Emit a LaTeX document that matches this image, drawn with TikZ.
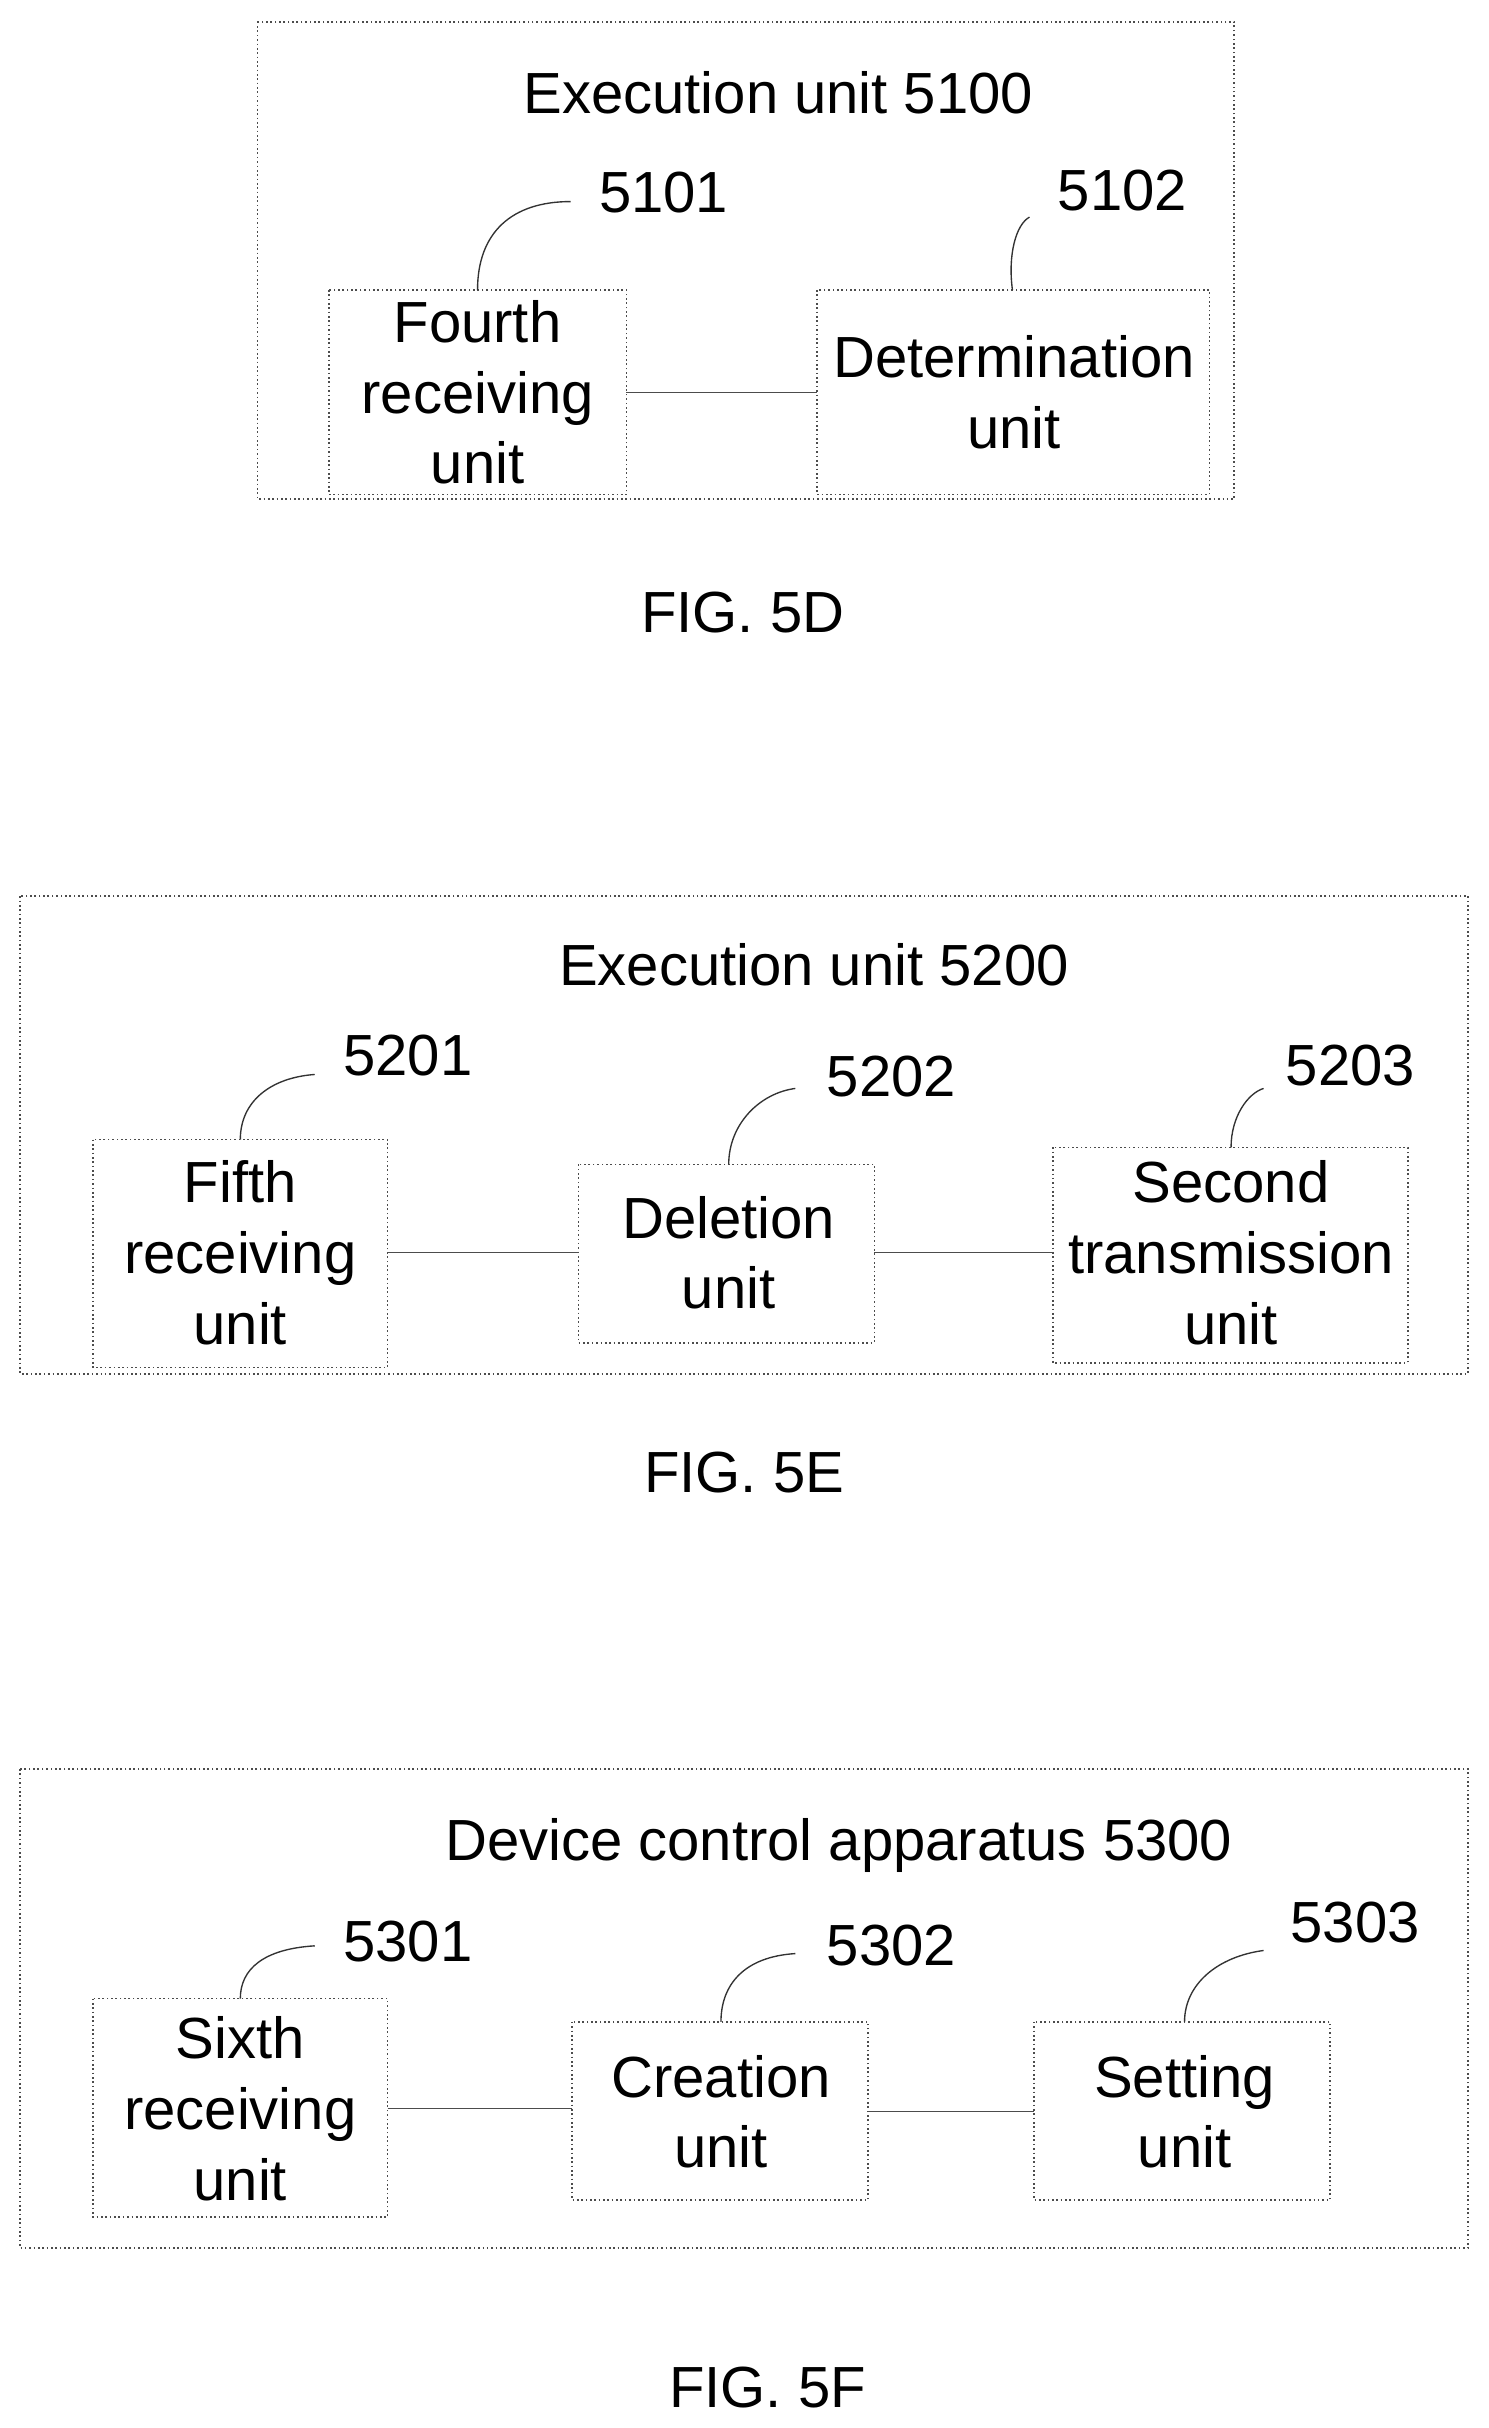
\documentclass[tikz,border=0pt]{standalone}
\usepackage{fontspec}
\setmainfont{Liberation Sans}
\begin{document}
\begin{tikzpicture}[x=0.02cm,y=-0.02cm,
 txt/.style={font=\fontsize{21.3}{26}\selectfont,align=center,inner sep=0},
 outer/.style={draw=black!70,line width=0.6pt,densely dotted},
 box/.style={draw=black!70,line width=0.6pt,densely dotted},
 con/.style={draw=black!70,line width=0.5pt},
 lead/.style={draw=black!80,line width=0.5pt}]
\useasboundingbox (0,0) rectangle (960,1566);
% 5D
\draw[outer] (166,14) rectangle (796,322);
\node[txt] (t1) at (502,60) {Execution unit 5100};
\draw[box] (212,187) rectangle (404,319); \coordinate (a1) at (308,187); \node[txt] (b1) at (308,253) {Fourth\\receiving\\unit};
\draw[box] (527,187) rectangle (780,319); \coordinate (a2) at (653,187); \node[txt] (b2) at (654,253) {Determination\\unit};
\draw[con] (404,253) -- (527,253);
\node[txt] (l1) at (428,124) {5101}; \node[txt] (l2) at (724,123) {5102};
\draw[lead] (a1) .. controls (308,150) and (330,130) .. (368,130);
\draw[lead] (a2) .. controls (650,165) and (655,145) .. (664,140);
\node[txt] (f1) at (479,395) {FIG. 5D};
% 5E
\draw[outer] (13,578) rectangle (947,886);
\node[txt] (t2) at (525,622) {Execution unit 5200};
\draw[box] (60,735) rectangle (250,882); \node[txt] (c1) at (155,808) {Fifth\\receiving\\unit};
\draw[box] (373,751) rectangle (564,866); \node[txt] (c2) at (470,808) {Deletion\\unit};
\draw[box] (679,740) rectangle (908,879); \node[txt] (c3) at (794,808) {Second\\transmission\\unit};
\draw[con] (250,808) -- (373,808); \draw[con] (564,808) -- (679,808);
\node[txt] (m1) at (263,681) {5201}; \node[txt] (m2) at (575,694) {5202}; \node[txt] (m3) at (871,687) {5203};
\draw[lead] (155,735) .. controls (155,710) and (175,695) .. (203,693);
\draw[lead] (470,751) .. controls (470,725) and (490,705) .. (513,702);
\draw[lead] (794,740) .. controls (794,720) and (805,705) .. (815,702);
\node[txt] (f2) at (480,950) {FIG. 5E};
% 5F
\draw[outer] (13,1141) rectangle (947,1450);
\node[txt] (t3) at (541,1190) {Device control apparatus 5300};
\draw[box] (60,1289) rectangle (250,1430); \node[txt] (d1) at (155,1360) {Sixth\\receiving\\unit};
\draw[box] (369,1304) rectangle (560,1419); \node[txt] (d2) at (465,1362) {Creation\\unit};
\draw[box] (667,1304) rectangle (858,1419); \node[txt] (d3) at (764,1362) {Setting\\unit};
\draw[con] (250,1360) -- (369,1360); \draw[con] (560,1362) -- (667,1362);
\node[txt] (n1) at (263,1252) {5301}; \node[txt] (n2) at (575,1255) {5302}; \node[txt] (n3) at (874,1240) {5303};
\draw[lead] (155,1289) .. controls (155,1270) and (170,1257) .. (203,1255);
\draw[lead] (465,1304) .. controls (465,1280) and (480,1262) .. (513,1260);
\draw[lead] (764,1304) .. controls (764,1280) and (785,1262) .. (815,1258);
\node[txt] (f3) at (495,1540) {FIG. 5F};
\end{tikzpicture}
\end{document}
